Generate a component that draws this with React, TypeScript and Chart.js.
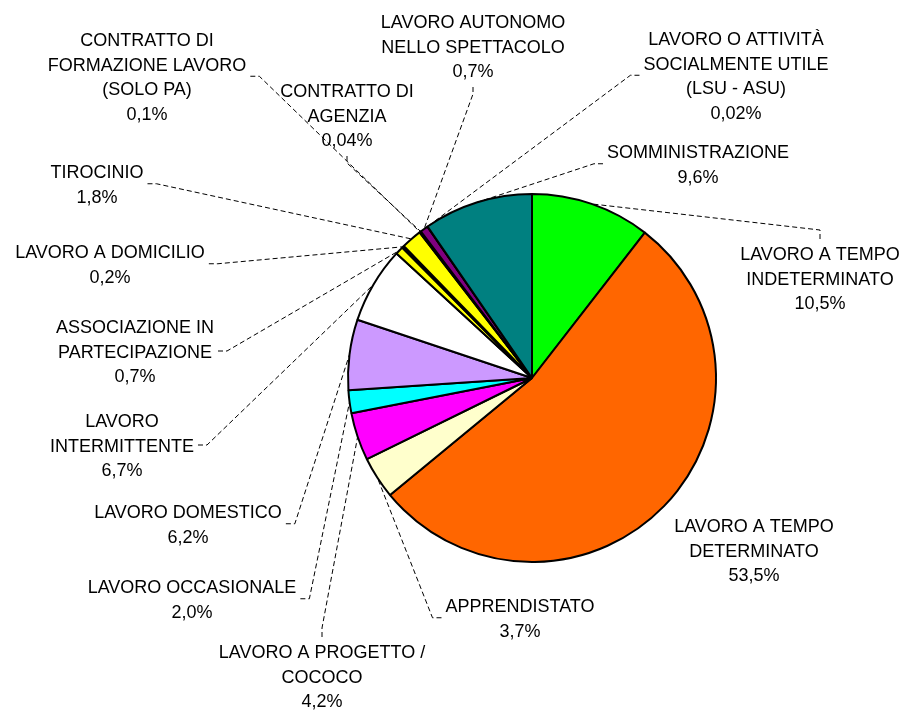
import React, { useEffect, useRef } from "react";
import { Chart, registerables } from "chart.js";

Chart.register(...registerables);

// ---- data ----
const categories: string[][] = [
  ["LAVORO A TEMPO", "INDETERMINATO"],
  ["LAVORO A TEMPO", "DETERMINATO"],
  ["APPRENDISTATO"],
  ["LAVORO A PROGETTO /", "COCOCO"],
  ["LAVORO OCCASIONALE"],
  ["LAVORO DOMESTICO"],
  ["LAVORO", "INTERMITTENTE"],
  ["ASSOCIAZIONE IN", "PARTECIPAZIONE"],
  ["LAVORO A DOMICILIO"],
  ["TIROCINIO"],
  ["CONTRATTO DI", "FORMAZIONE LAVORO", "(SOLO PA)"],
  ["CONTRATTO DI", "AGENZIA"],
  ["LAVORO AUTONOMO", "NELLO SPETTACOLO"],
  ["LAVORO O ATTIVITÀ", "SOCIALMENTE UTILE", "(LSU - ASU)"],
  ["SOMMINISTRAZIONE"],
];
const shares: number[] = [10.5, 53.5, 3.7, 4.2, 2.0, 6.2, 6.7, 0.7, 0.2, 1.8, 0.1, 0.04, 0.7, 0.02, 9.6];
const sliceColors: string[] = [
  "#00FF00", "#FF6600", "#FFFFCC", "#FF00FF", "#00FFFF", "#CC99FF", "#FFFFFF",
  "#FFFF00", "#000000", "#FFFF00", "#000080", "#800000", "#800080", "#000000", "#008080",
];

// ---- label layout (text centre x, first baseline y, leader anchor side) ----
const labelLayout: { cx: number; y: number; anchor: string }[] = [
  { cx: 820, y: 260, anchor: "top" },
  { cx: 754, y: 532, anchor: "none" },
  { cx: 520, y: 612, anchor: "left" },
  { cx: 322, y: 658, anchor: "top" },
  { cx: 192, y: 593, anchor: "right" },
  { cx: 188, y: 518, anchor: "right" },
  { cx: 122, y: 427, anchor: "right" },
  { cx: 135, y: 333, anchor: "right" },
  { cx: 110, y: 258, anchor: "right" },
  { cx: 97, y: 178, anchor: "right" },
  { cx: 147, y: 46, anchor: "right" },
  { cx: 347, y: 97, anchor: "bottom" },
  { cx: 473, y: 28, anchor: "bottom" },
  { cx: 736, y: 45, anchor: "left" },
  { cx: 698, y: 158, anchor: "left" },
];

const FONT = '18px "Liberation Sans", Arial, sans-serif';
const LINE_H = 24.5;

function fmtPct(v: number): string {
  const d = v < 0.1 ? 2 : 1;
  return v.toFixed(d).replace(".", ",") + "%";
}

const labelPlugin = {
  id: "outsideLabels",
  afterDatasetsDraw(chart: any) {
    const ctx: CanvasRenderingContext2D = chart.ctx;
    const meta = chart.getDatasetMeta(0);
    ctx.save();
    ctx.font = FONT;
    ctx.fillStyle = "#000000";
    ctx.textAlign = "center";
    ctx.textBaseline = "alphabetic";
    meta.data.forEach((arc: any, i: number) => {
      const p = arc.getProps(["x", "y", "startAngle", "endAngle", "outerRadius"], true);
      const lines = [...categories[i], fmtPct(shares[i])];
      const lay = labelLayout[i];
      let w = 0;
      lines.forEach((l) => (w = Math.max(w, ctx.measureText(l).width)));
      const lastBase = lay.y + (lines.length - 1) * LINE_H;
      const midY = (lay.y - 13 + lastBase) / 2;
      let ax = 0, ay = 0, ex = 0, ey = 0;
      let draw = true;
      if (lay.anchor === "right") {
        ax = lay.cx + w / 2 + 4; ay = midY; ex = ax + 9; ey = ay;
      } else if (lay.anchor === "left") {
        ax = lay.cx - w / 2 - 4; ay = midY; ex = ax - 9; ey = ay;
      } else if (lay.anchor === "top") {
        ax = lay.cx; ay = lay.y - 21; ex = ax; ey = ay - 9;
      } else if (lay.anchor === "bottom") {
        ax = lay.cx; ay = lastBase + 10; ex = ax; ey = ay + 7;
      } else draw = false;
      if (draw) {
        const mid = (p.startAngle + p.endAngle) / 2;
        const r = p.outerRadius;
        const px = p.x + Math.cos(mid) * r;
        const py = p.y + Math.sin(mid) * r;
        ctx.save();
        ctx.strokeStyle = "#000000";
        ctx.lineWidth = 1;
        ctx.setLineDash([5, 3]);
        ctx.beginPath();
        ctx.moveTo(ax, ay);
        ctx.lineTo(ex, ey);
        ctx.lineTo(px, py);
        ctx.stroke();
        ctx.restore();
      }
      lines.forEach((l, k) => {
        ctx.fillText(l, lay.cx, lay.y + k * LINE_H);
      });
    });
    ctx.restore();
  },
};

export default function App() {
  const ref = useRef<HTMLCanvasElement | null>(null);
  useEffect(() => {
    if (!ref.current) return;
    const chart = new Chart(ref.current, {
      type: "pie",
      data: {
        labels: categories.map((c) => c.join(" ")),
        datasets: [
          {
            data: shares,
            backgroundColor: sliceColors,
            borderColor: "#000000",
            borderWidth: 2,
            borderJoinStyle: "bevel",
          } as any,
        ],
      },
      options: {
        responsive: false,
        animation: false,
        events: [],
        radius: 184,
        layout: { padding: { left: 159, top: 46, right: 0, bottom: 0 } },
        plugins: {
          legend: { display: false },
          tooltip: { enabled: false },
        },
      } as any,
      plugins: [labelPlugin],
    });
    return () => chart.destroy();
  }, []);
  return (
    <div style={{ position: "fixed", left: 0, top: 0, width: 905, height: 710, background: "#ffffff" }}>
      <canvas ref={ref} width={905} height={710} style={{ width: 905, height: 710, display: "block" }} />
    </div>
  );
}
